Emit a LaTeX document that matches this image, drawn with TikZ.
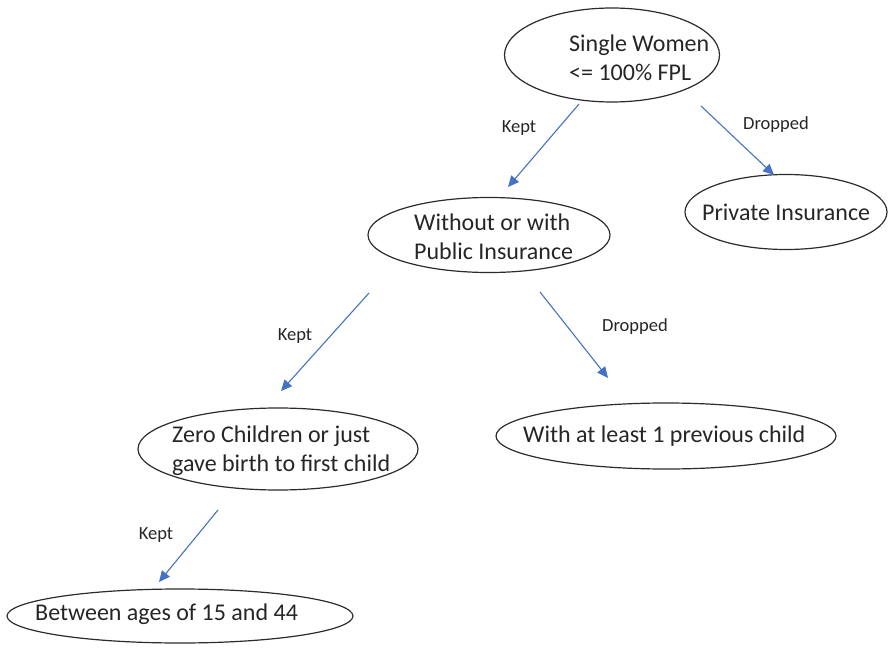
\documentclass[tikz,border=0pt]{standalone}
\usepackage{fontspec}
\setmainfont{Carlito}
\usetikzlibrary{shapes.geometric,arrows.meta}
\definecolor{arrowblue}{HTML}{4472C4}
\definecolor{edgegray}{HTML}{2B2B2B}
\begin{document}
\begin{tikzpicture}[x=1pt,y=-1pt,
  oval/.style={ellipse,draw=edgegray,line width=1.2pt,inner sep=0pt},
  txt/.style={anchor=west,align=left,inner sep=0pt,font=\fontsize{24}{29}\selectfont,text=black!85},
  lbl/.style={inner sep=0pt,font=\fontsize{18.5}{22}\selectfont,text=black!85},
  link/.style={draw=arrowblue,line width=1.1pt,-{Triangle[length=11pt,width=10pt]}}]
\useasboundingbox (0,0) rectangle (889,650);
% ellipses
\node[oval,minimum width=215pt,minimum height=94pt] (e1) at (612,55) {};
\node[oval,minimum width=202pt,minimum height=75pt] (e2) at (786,212) {};
\node[oval,minimum width=242pt,minimum height=75pt] (e3) at (489,235) {};
\node[oval,minimum width=280pt,minimum height=82pt] (e4) at (278,449) {};
\node[oval,minimum width=340pt,minimum height=66pt] (e5) at (666,436) {};
\node[oval,minimum width=346pt,minimum height=54pt] (e6) at (180,616) {};
% texts
\node[txt] (t1) at (569,57.5) {Single Women\\<= 100\% FPL};
\node[txt] (t2) at (702,212) {Private Insurance};
\node[txt] (t3) at (414,237) {Without or with\\Public Insurance};
\node[txt] (t4) at (172,451) {Zero Children or just\\gave birth to first child};
\node[txt] (t5) at (523,436) {With at least 1 previous child};
\node[txt] (t6) at (35,614) {Between ages of 15 and 44};
% arrow end points
\coordinate (s1) at (579,104); \coordinate (d1) at (508,187);
\coordinate (s2) at (701,106); \coordinate (d2) at (774,175);
\coordinate (s3) at (369,293); \coordinate (d3) at (281,391);
\coordinate (s4) at (540,292); \coordinate (d4) at (608,378);
\coordinate (s5) at (218,510); \coordinate (d5) at (159,582);
\draw[link] (s1) -- (d1);
\draw[link] (s2) -- (d2);
\draw[link] (s3) -- (d3);
\draw[link] (s4) -- (d4);
\draw[link] (s5) -- (d5);
% labels
\node[lbl] (k1) at (519,128) {Kept};
\node[lbl] (p1) at (776,125) {Dropped};
\node[lbl] (k2) at (295,336) {Kept};
\node[lbl] (p2) at (635,327) {Dropped};
\node[lbl] (k3) at (156,535) {Kept};
\end{tikzpicture}
\end{document}
